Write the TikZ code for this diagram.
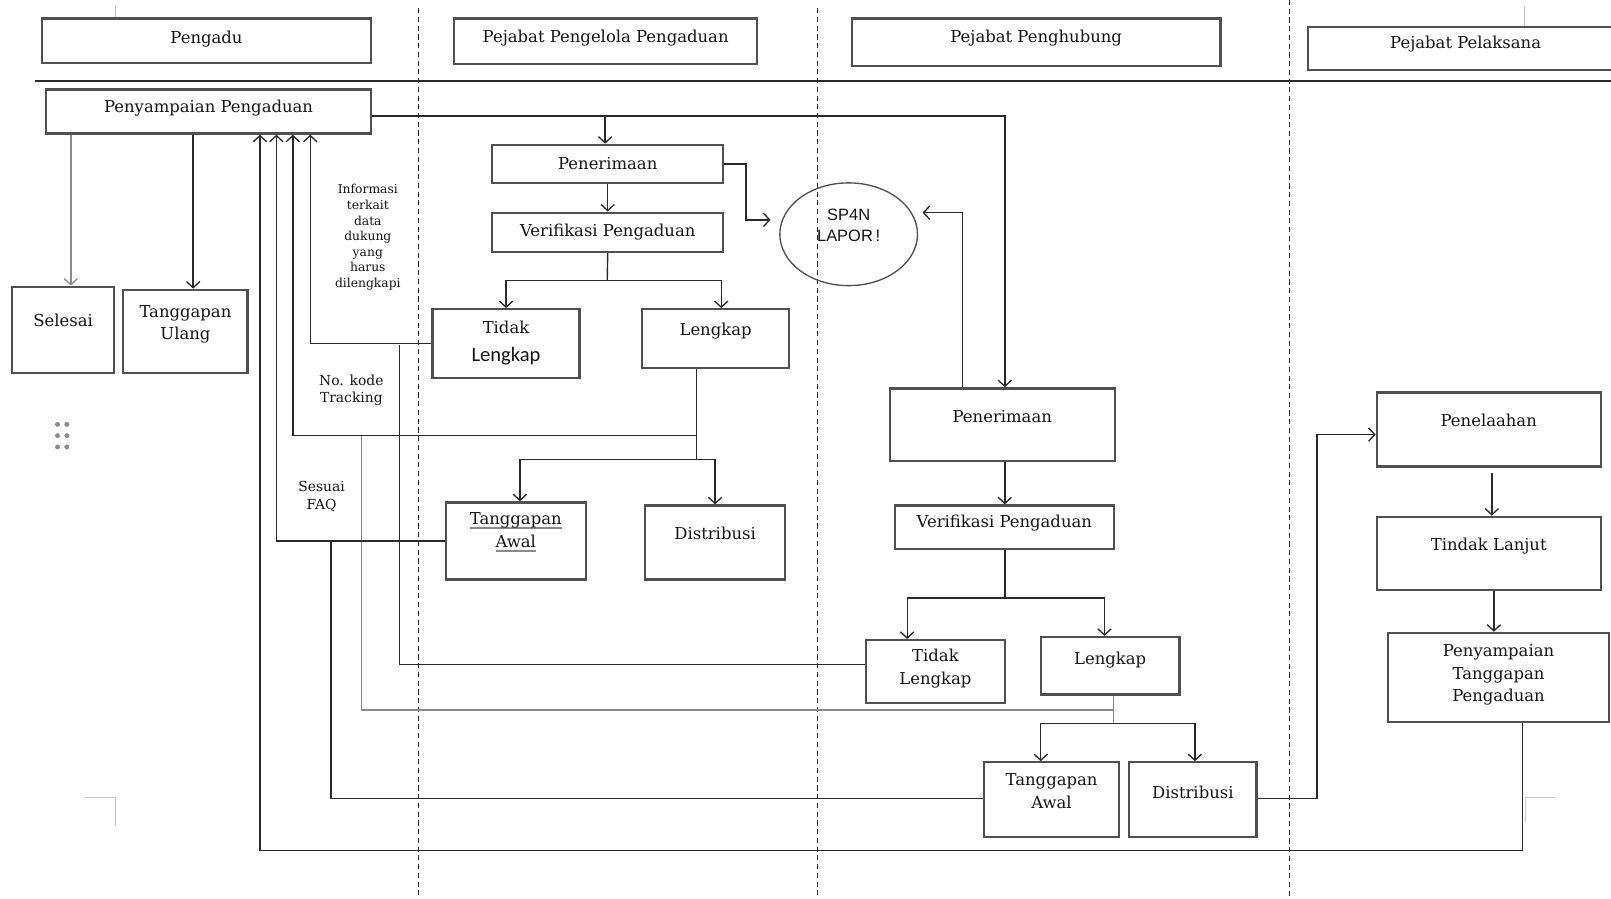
\documentclass[tikz,border=0pt]{standalone}
\usepackage{fontspec}
\setmainfont{DejaVu Serif}
\newfontfamily\calib{Carlito}
\newfontfamily\arialf{Liberation Sans}
\usetikzlibrary{arrows.meta,shapes.geometric}
\definecolor{boxc}{HTML}{505050}
\definecolor{linec}{HTML}{2a2a2a}
\definecolor{txtc}{HTML}{151515}
\definecolor{glc}{HTML}{8a8a8a}
\definecolor{markc}{HTML}{c8c8c8}
\newcommand\upby[2]{\raisebox{#1}[\height][\depth]{\begin{tabular}{@{}c@{}}#2\end{tabular}}}
\newcommand\gul[1]{\setbox0\hbox{#1}\rlap{\textcolor{glc}{\rule[-4pt]{\wd0}{1.6pt}}}\box0}
\begin{document}
\begin{tikzpicture}[x=1pt,y=-1pt,
  box/.style={draw=boxc, line width=2.2pt, inner sep=0pt, text=txtc, align=center,
    font=\fontsize{16}{22}\selectfont},
  conn/.style={draw=linec, line width=1.35pt},
  gline/.style={draw=glc, line width=1.3pt},
  arr/.style={conn, -{Straight Barb[length=6pt,width=13pt,line width=1.3pt]}},
  garr/.style={gline, -{Straight Barb[length=6pt,width=13pt,line width=1.2pt]}},
  lbl/.style={inner sep=0pt, text=txtc, align=center},
  lane/.style={draw=linec, line width=1.2pt, dash pattern=on 5pt off 3.5pt}]
\useasboundingbox (0,0) rectangle (1568,875);
\fill[white] (0,0) rectangle (1568,875);

% swimlane rules
\draw[draw=linec, line width=1.3pt] (34,79) -- (1568,79);
\draw[lane] (407,8) -- (407,875);
\draw[lane] (796,8) -- (796,875);
\draw[lane] (1255,0) -- (1255,875);

% page artefacts
\draw[markc, line width=1pt] (112,5) -- (112,18);
\draw[markc, line width=1pt] (1484,6) -- (1484,25);
\draw[markc, line width=1pt] (83,776) -- (112,776) -- (112,804);
\draw[markc, line width=1pt] (1513,776) -- (1485,776) -- (1485,800);
\foreach \dx in {56,65} \foreach \dy in {413,424,435} \fill[glc] (\dx,\dy) circle (2.4pt);

% headers
\node[box, minimum width=320, minimum height=43] (hPengadu) at (201,39.5) {\upby{2pt}{Pengadu}};
\node[box, minimum width=295, minimum height=44] (hPPP) at (589.5,40) {\upby{3pt}{Pejabat Pengelola Pengaduan}};
\node[box, minimum width=359, minimum height=46] (hPH) at (1008.5,41) {\upby{4pt}{Pejabat Penghubung}};
\node[box, minimum width=307, minimum height=42] (hPel) at (1426.5,47) {\upby{4pt}{Pejabat Pelaksana}};

% Pengadu lane
\node[box, minimum width=316, minimum height=43] (pp) at (203,108.5) {\upby{3pt}{Penyampaian Pengaduan}};
\node[box, minimum width=99, minimum height=84] (sel) at (61.5,321) {\upby{8pt}{Selesai}};
\node[box, minimum width=121, minimum height=81] (tu) at (180.5,322.5) {\upby{7pt}{Tanggapan\\Ulang}};

% Pengelola lane
\node[box, minimum width=225, minimum height=37] (ppen) at (591.5,159.5) {Penerimaan};
\node[box, minimum width=225, minimum height=38] (pver) at (591.5,226) {Verifikasi Pengaduan};
\node[box, minimum width=143, minimum height=67] (ptl) at (492.5,334.5) {\upby{1pt}{Tidak\\[5pt]{\calib\fontsize{20}{22}\selectfont Lengkap}}};
\node[box, minimum width=143, minimum height=57] (pl) at (696.5,329.5) {\upby{7pt}{Lengkap}};
\node[box, minimum width=136, minimum height=75] (pta) at (502,526.5) {\upby{9pt}{\gul{Tanggapan}\\\gul{Awal}}};
\node[box, minimum width=136, minimum height=72] (pd) at (696,528) {\upby{7pt}{Distribusi}};
\node[draw=boxc, line width=1.3pt, ellipse, minimum width=134, minimum height=100, inner sep=0pt,
  text=txtc, font=\arialf\fontsize{16}{20}\selectfont] (sp) at (826,228) {\upby{7pt}{SP4N\\LAPOR\,!}};

% Penghubung lane
\node[box, minimum width=219, minimum height=71] (php) at (975.5,413.5) {\upby{7pt}{Penerimaan}};
\node[box, minimum width=213, minimum height=42] (hv) at (977.5,513) {\upby{4pt}{Verifikasi Pengaduan}};
\node[box, minimum width=135, minimum height=61] (htl) at (910.5,653.5) {\upby{3pt}{Tidak\\Lengkap}};
\node[box, minimum width=135, minimum height=56] (hl) at (1080.5,648) {\upby{6pt}{Lengkap}};
\node[box, minimum width=131, minimum height=73] (hta) at (1023.5,778.5) {\upby{7pt}{Tanggapan\\Awal}};
\node[box, minimum width=124, minimum height=73] (hd) at (1161,778.5) {\upby{6pt}{Distribusi}};

% Pelaksana lane
\node[box, minimum width=218, minimum height=72] (pel) at (1449,418) {\upby{7pt}{Penelaahan}};
\node[box, minimum width=218, minimum height=71] (tl) at (1449,538.5) {\upby{7pt}{Tindak Lanjut}};
\node[box, minimum width=215, minimum height=87] (ptp) at (1458.5,659.5) {\upby{3pt}{Penyampaian\\Tanggapan\\Pengaduan}};

% labels
\node[lbl, font=\fontsize{12}{15.2}\selectfont] (info) at (358,231) {Informasi\\terkait\\data\\dukung\\yang\\harus\\dilengkapi};
\node[lbl, font=\fontsize{13.5}{16.5}\selectfont] (track) at (342,380) {No. kode\\Tracking};
\node[lbl, font=\fontsize{13.5}{18}\selectfont] (faq) at (313,483) {Sesuai\\FAQ};

% helper coordinates
\coordinate (X1) at (253,0);
\coordinate (X2) at (269,0);
\coordinate (X3) at (285,0);
\coordinate (X4) at (302,0);
\coordinate (G69) at (69,0);
\coordinate (G188) at (188,0);
\coordinate (J0) at (589,113);
\coordinate (F1) at (591,273);
\coordinate (B1) at (726,214);
\coordinate (T1) at (750,214);
\coordinate (B2) at (937,207);
\coordinate (T2) at (898,207);
\coordinate (V1) at (389,336);
\coordinate (S1) at (678,424);
\coordinate (S2) at (678,447);
\coordinate (G1) at (352,424);
\coordinate (S3) at (1084,691);
\coordinate (S4) at (1084,704);
\coordinate (V2) at (322,526);
\coordinate (R1) at (1282,423);
\coordinate (B3) at (1482,828);
\coordinate (F2) at (978,582);

% connectors: Pengadu
\draw[garr] (G69 |- pp.south) -- (G69 |- sel.north);
\draw[arr] (G188 |- pp.south) -- (G188 |- tu.north);
\draw[arr] ([yshift=-4.5pt]pp.east) -| ([xshift=2.5pt]php.north);
\draw[arr] (J0) -- (J0 |- ppen.north);

% Pengelola
\draw[arr] (ppen.south) -- (pver.north);
\draw[conn] (pver.south) -- (F1);
\draw[arr] (F1) -| (ptl.north);
\draw[arr] (F1) -| ([xshift=5.5pt]pl.north);
\draw[arr] (ppen.east) -| (B1) -- (T1);
\draw[arr] (ptl.west) -| (X4 |- pp.south);
\draw[conn] (V1) |- ([yshift=6.5pt]htl.west);
\draw[conn] (S1 |- pl.south) -- (S2);
\draw[arr] (S1) -| (X3 |- pp.south);
\draw[arr] (S2) -| ([xshift=4pt]pta.north);
\draw[arr] (S2) -| (pd.north);
\draw[gline] (G1) |- (S3);
\draw[arr] (pta.west) -| (X2 |- pp.south);
\draw[conn] (V2) |- ([yshift=1.5pt]hta.west);

% Penghubung
\draw[arr] (B2 |- php.north) -- (B2) -- (T2);
\draw[arr] ([xshift=2.5pt]php.south) -- ([xshift=2.5pt]php.south |- hv.north);
\draw[conn] (hv.south -| F2) -- (F2);
\draw[arr] (F2) -| ([xshift=-27.5pt]htl.north);
\draw[arr] (F2) -| ([xshift=-5.5pt]hl.north);
\draw[gline] (S3 |- hl.south) -- (S4);
\draw[arr] (S4) -| ([xshift=-10.5pt]hta.north);
\draw[arr] (S4) -| ([xshift=2pt]hd.north);
\draw[arr] ([yshift=1.5pt]hd.east) -| (R1) -- (R1 -| pel.west);

% Pelaksana
\draw[arr] ([xshift=3pt,yshift=-5pt]pel.south) -- ([xshift=3pt]tl.north);
\draw[arr] ([xshift=5pt]tl.south) -- ([xshift=5pt]tl.south |- ptp.north);
\draw[arr] (B3 |- ptp.south) -- (B3) -| (X1 |- pp.south);
\end{tikzpicture}
\end{document}
